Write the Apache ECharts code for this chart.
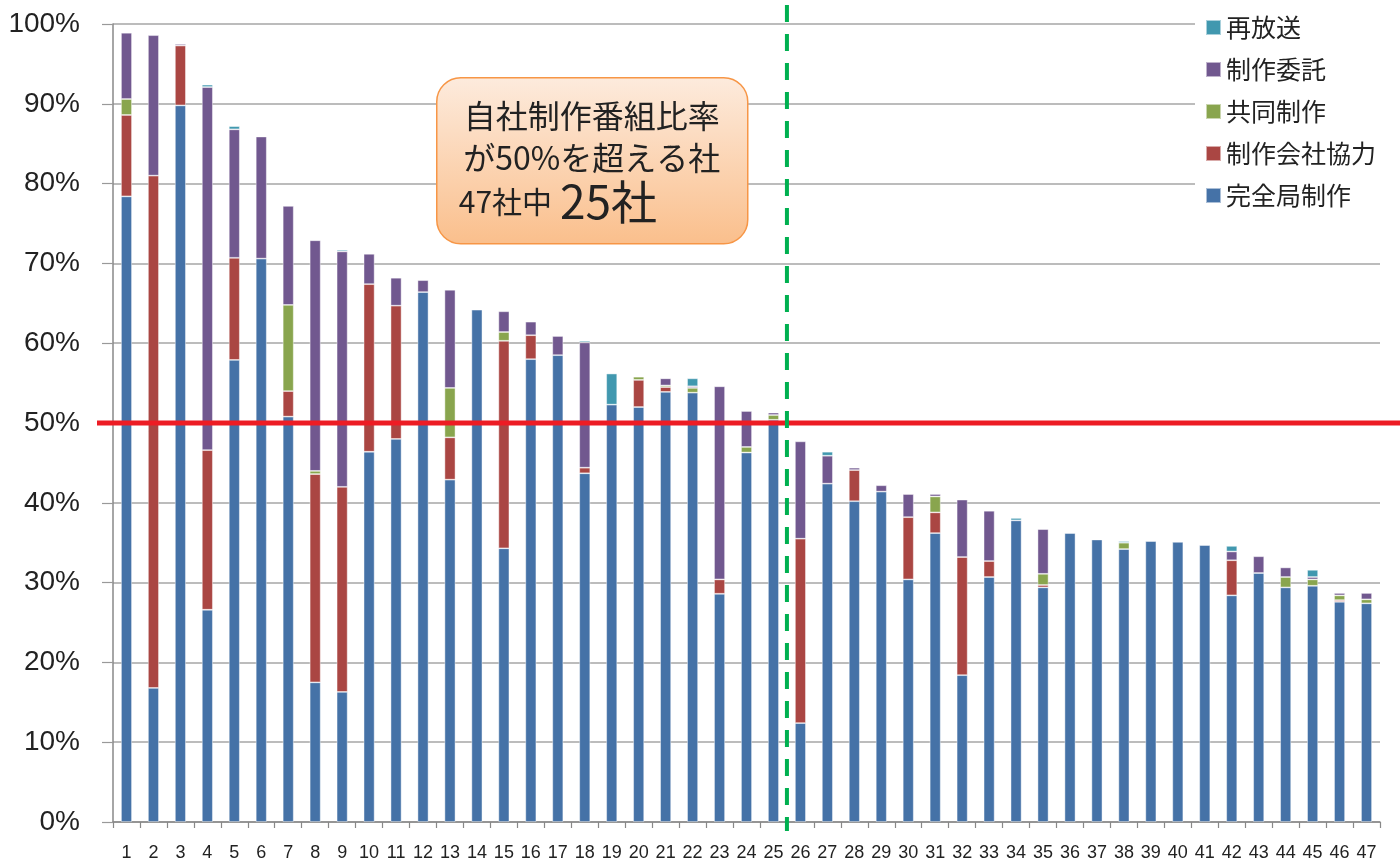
<!DOCTYPE html>
<html>
<head>
<meta charset="utf-8">
<script src="https://cdn.jsdelivr.net/npm/echarts@6/dist/echarts.min.js"></script>
<style>
html,body{margin:0;padding:0;background:#fff;}
#chart{width:1400px;height:866px;}
</style>
</head>
<body>
<div id="chart"></div>
<script>
const categories = ['1','2','3','4','5','6','7','8','9','10','11','12','13','14','15','16','17','18','19','20','21','22','23','24','25','26','27','28','29','30','31','32','33','34','35','36','37','38','39','40','41','42','43','44','45','46','47'];
const yTicks = ['0%','10%','20%','30%','40%','50%','60%','70%','80%','90%','100%'];

// 完全局制作
const inHouse = [78.4,16.8,89.8,26.6,57.9,70.6,50.8,17.5,16.3,46.4,48.0,66.4,42.9,64.2,34.3,58.0,58.5,43.7,52.3,52.0,53.9,53.8,28.6,46.3,50.4,12.4,42.4,40.2,41.4,30.4,36.2,18.4,30.7,37.8,29.4,36.2,35.4,34.2,35.2,35.1,34.7,28.4,31.2,29.4,29.6,27.6,27.4];
// 制作会社協力
const coopProd = [10.2,64.2,7.5,20.0,12.8,0,3.2,26.1,25.7,21.0,16.7,0,5.3,0,26.0,3.0,0,0.7,0,3.4,0.6,0,1.8,0,0,23.1,0,3.9,0,7.8,2.6,14.8,2.0,0,0.3,0,0,0,0,0,0,4.4,0,0,0,0.2,0];
// 共同制作
const jointProd = [2.0,0,0,0,0,0,10.8,0.4,0,0,0,0,6.2,0,1.1,0,0,0,0,0.4,0.2,0.6,0,0.7,0.6,0,0,0,0,0,2.0,0,0,0,1.4,0,0,0.8,0,0,0,0,0,1.3,0.8,0.6,0.5];
// 制作委託
const outsourced = [8.3,17.6,0.2,45.5,16.1,15.3,12.4,28.9,29.5,3.8,3.5,1.5,12.3,0,2.6,1.7,2.4,15.7,0,0,0.9,0.2,24.2,4.5,0.3,12.2,3.5,0.3,0.8,2.9,0.3,7.2,6.3,0,5.6,0,0,0,0,0,0,1.1,2.1,1.2,0.3,0.3,0.8];
// 再放送
const rerun = [0,0,0,0.3,0.4,0,0,0,0.2,0,0,0,0,0,0,0,0,0.2,3.9,0,0.1,1.0,0,0,0,0,0.5,0,0,0.1,0,0,0,0.3,0,0,0,0.2,0,0,0,0.7,0,0,0.9,0.1,0];

const seriesNames = ['完全局制作','制作会社協力','共同制作','制作委託','再放送'];
const seriesData = [inHouse, coopProd, jointProd, outsourced, rerun];
const seriesColors = ['#4572A7','#AA4643','#89A54E','#71588F','#4198AF'];
const legendOrder = ['再放送','制作委託','共同制作','制作会社協力','完全局制作'];
const thresholdValue = 50;
const splitAfterCategory = '25';

const chart = echarts.init(document.getElementById('chart'), null, {renderer:'canvas'});
const cjk = "'Noto Sans CJK JP','Noto Sans',sans-serif";
const latin = "'Liberation Sans','Noto Sans',sans-serif";

const series = seriesNames.map((n,i)=>({
  name:n, type:'bar', stack:'total', barWidth:11,
  data: seriesData[i].map(v => v === 0 ? null : v),
  itemStyle:{color:seriesColors[i], borderColor:'rgba(255,255,255,0.55)', borderWidth:0.8},
  emphasis:{disabled:true}
}));

chart.setOption({
  animation:false,
  backgroundColor:'#fff',
  grid:{left:113, right:20, top:24, bottom:44, containLabel:false},
  legend:{
    data:legendOrder, orient:'vertical', left:1195, top:7,
    padding:[8,10,8,10], backgroundColor:'#fff',
    itemWidth:15, itemHeight:15, itemGap:17, icon:'rect',
    textStyle:{fontFamily:cjk, fontSize:25, color:'#222'}
  },
  xAxis:{
    type:'category', data:categories,
    axisLine:{lineStyle:{color:'#888', width:1.5}},
    axisTick:{show:true, length:6, alignWithLabel:false, lineStyle:{color:'#888', width:1.2}},
    axisLabel:{fontFamily:latin, fontSize:18, color:'#222', margin:22, interval:0}
  },
  yAxis:{
    type:'value', min:0, max:100, interval:10,
    axisLine:{show:true, lineStyle:{color:'#888', width:1.5}},
    axisTick:{show:true, length:11, lineStyle:{color:'#999', width:1.2}},
    axisLabel:{fontFamily:latin, fontSize:28, color:'#222', margin:33,
      formatter:(v)=>yTicks[Math.round(v/10)]},
    splitLine:{lineStyle:{color:'#a6a6a6', width:1.5}}
  },
  series: series
});

function drawOverlays(){
  const yPx = chart.convertToPixel({yAxisIndex:0}, thresholdValue);
  const idx = categories.indexOf(splitAfterCategory);
  const xa = chart.convertToPixel({xAxisIndex:0}, categories[idx]);
  const xb = chart.convertToPixel({xAxisIndex:0}, categories[idx+1]);
  const xSplit = (xa+xb)/2;
  chart.setOption({
    graphic:[
      {type:'line', z:50, shape:{x1:97, y1:yPx, x2:1400, y2:yPx},
        style:{stroke:'#ED1C24', lineWidth:5}},
      {type:'line', z:51, shape:{x1:xSplit, y1:5, x2:xSplit, y2:831},
        style:{stroke:'#00B050', lineWidth:4, lineDash:[17,12]}},
      {type:'group', left:436, top:77, z:60, children:[
        {type:'rect', shape:{x:0, y:0, width:311, height:166, r:24},
          style:{fill:new echarts.graphic.LinearGradient(0,0,0,1,[
            {offset:0, color:'#FDEBDD'},{offset:1, color:'#FABF8C'}]),
            stroke:'#F79646', lineWidth:1.5}},
        {type:'text', style:{x:155, y:38, text:'自社制作番組比率', align:'center', verticalAlign:'middle',
          fontFamily:cjk, fontSize:32, fill:'#222'}},
        {type:'text', style:{x:155, y:80, text:'が50%を超える社', align:'center', verticalAlign:'middle',
          fontFamily:cjk, fontSize:32, fill:'#222'}},
        {type:'text', style:{x:22, y:124, text:'{s|47社中}{b|25社}', align:'left', verticalAlign:'middle',
          rich:{s:{fontFamily:cjk, fontSize:30, fill:'#222', color:'#222'},
                b:{fontFamily:cjk, fontSize:46, fill:'#222', color:'#222', padding:[0,0,0,8]}}}}
      ]}
    ]
  });
}
drawOverlays();
</script>
</body>
</html>
